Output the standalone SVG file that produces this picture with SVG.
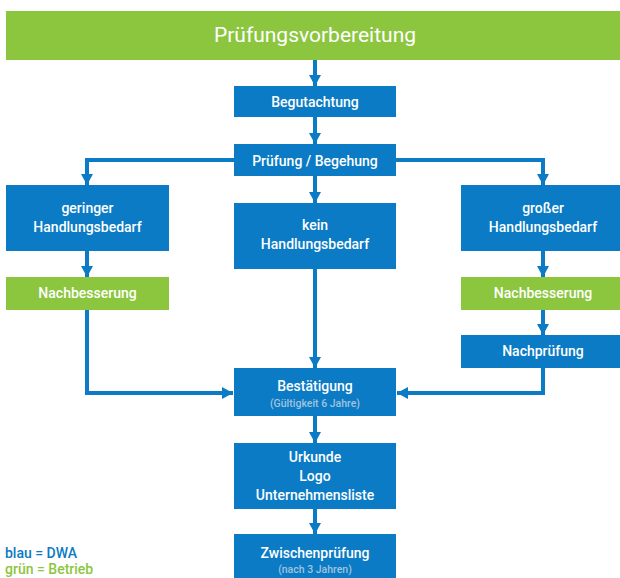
<svg xmlns="http://www.w3.org/2000/svg" width="620" height="578" viewBox="0 0 620 578">
<defs>
<marker id="ah" viewBox="0 0 11 12" refX="11" refY="6" markerWidth="11" markerHeight="12" markerUnits="userSpaceOnUse" orient="auto">
<path d="M0,0 L11,6 L0,12 z" fill="#0a7bc4"/>
</marker>
<style>
.b{fill:#0a7bc4}
.g{fill:#8cc63f}
.t{fill:#ffffff;font-family:Roboto,"Liberation Sans",sans-serif;font-size:14px;font-weight:500;text-anchor:middle}
.s{fill:#a3c3df;font-family:Roboto,"Liberation Sans",sans-serif;font-size:10.5px;font-weight:500;text-anchor:middle}
.c{fill:none;stroke:#0a7bc4;stroke-width:4;marker-end:url(#ah)}
.l{font-family:Roboto,"Liberation Sans",sans-serif;font-size:14px;font-weight:500}
</style>
</defs>
<g id="connectors">
<path class="c" d="M315,60 V86"/>
<path class="c" d="M315,117 V144"/>
<path class="c" d="M234,160 H87 V185"/>
<path class="c" d="M396,160 H543 V185"/>
<path class="c" d="M315,176 V203"/>
<path class="c" d="M87,251 V277"/>
<path class="c" d="M543,251 V277"/>
<path class="c" d="M543,310 V335"/>
<path class="c" d="M315,269 V368"/>
<path class="c" d="M87,310 V393 H233"/>
<path class="c" d="M543,368 V393 H397"/>
<path class="c" d="M315,416 V443"/>
<path class="c" d="M315,509 V534"/>
</g>
<g id="pruefungsvorbereitung">
<rect class="g" x="6" y="11" width="620" height="49"/>
<text class="t" x="315" y="42" style="font-size:21px;font-weight:400">Prüfungsvorbereitung</text>
</g>
<g id="begutachtung">
<rect class="b" x="234" y="86" width="162" height="31"/>
<text class="t" x="315" y="106.5">Begutachtung</text>
</g>
<g id="pruefung-begehung">
<rect class="b" x="234" y="144" width="162" height="32"/>
<text class="t" x="315" y="165.5">Prüfung / Begehung</text>
</g>
<g id="geringer">
<rect class="b" x="6" y="185" width="163" height="66"/>
<text class="t" x="87.5" y="213">geringer</text>
<text class="t" x="87.5" y="232">Handlungsbedarf</text>
</g>
<g id="kein">
<rect class="b" x="234" y="203" width="162" height="66"/>
<text class="t" x="315" y="230">kein</text>
<text class="t" x="315" y="249">Handlungsbedarf</text>
</g>
<g id="grosser">
<rect class="b" x="461" y="185" width="165" height="66"/>
<text class="t" x="543" y="213">großer</text>
<text class="t" x="543" y="232">Handlungsbedarf</text>
</g>
<g id="nachbesserung-links">
<rect class="g" x="6" y="277" width="163" height="33"/>
<text class="t" x="87.5" y="297.5">Nachbesserung</text>
</g>
<g id="nachbesserung-rechts">
<rect class="g" x="461" y="277" width="165" height="33"/>
<text class="t" x="543" y="297.5">Nachbesserung</text>
</g>
<g id="nachpruefung">
<rect class="b" x="461" y="335" width="165" height="33"/>
<text class="t" x="543" y="356">Nachprüfung</text>
</g>
<g id="bestaetigung">
<rect class="b" x="234" y="368" width="162" height="48"/>
<text class="t" x="315" y="391">Bestätigung</text>
<text class="s" x="315" y="406.5">(Gültigkeit 6 Jahre)</text>
</g>
<g id="urkunde">
<rect class="b" x="234" y="443" width="162" height="66"/>
<text class="t" x="315" y="462">Urkunde</text>
<text class="t" x="315" y="481">Logo</text>
<text class="t" x="315" y="499.5">Unternehmensliste</text>
</g>
<g id="zwischenpruefung">
<rect class="b" x="234" y="534" width="162" height="50"/>
<text class="t" x="315" y="557.5">Zwischenprüfung</text>
<text class="s" x="315" y="572.5">(nach 3 Jahren)</text>
</g>
<g id="legende">
<text class="l" x="5" y="558" fill="#0a7bc4">blau = DWA</text>
<text class="l" x="5" y="574" fill="#8cc63f">grün = Betrieb</text>
</g>
</svg>
